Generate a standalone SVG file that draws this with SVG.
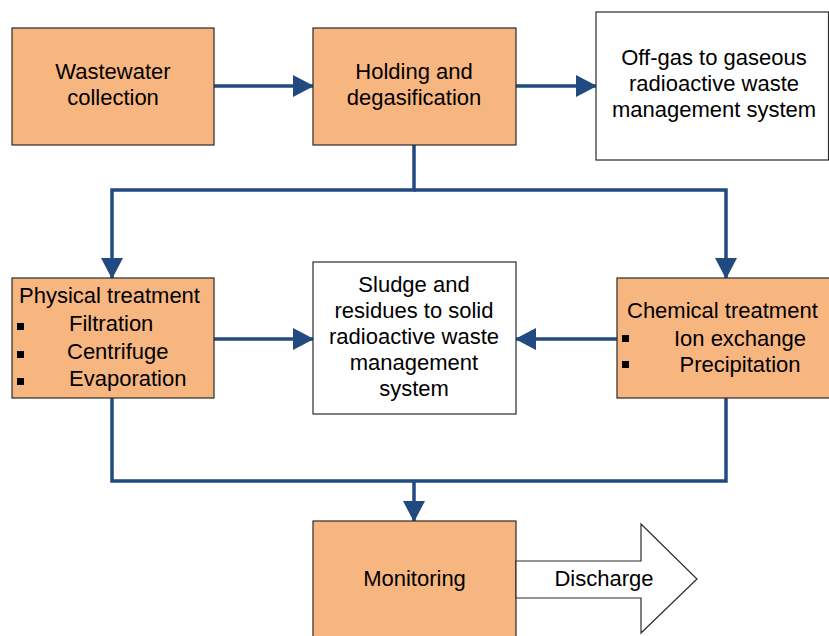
<svg xmlns="http://www.w3.org/2000/svg" width="829" height="636" viewBox="0 0 829 636">
<style>
.box{fill:#F7B580;stroke:#2b2b2b;stroke-width:1.2}
.wbox{fill:#ffffff;stroke:#2b2b2b;stroke-width:1.2}
.t{font-family:"Liberation Sans",Arial,sans-serif;font-size:22px;fill:#000}
.c{text-anchor:middle}
.con{fill:none;stroke:#214A80;stroke-width:3.5}
.bul{fill:#000}
</style>
<defs>
<marker id="ah" markerWidth="21" markerHeight="22" refX="20" refY="11" orient="auto" markerUnits="userSpaceOnUse">
<path d="M0,0 L21,11 L0,22 z" fill="#214A80"/>
</marker>
</defs>
<rect width="829" height="636" fill="#ffffff"/>
<g id="connectors">
<line class="con" x1="214" y1="86" x2="313" y2="86" marker-end="url(#ah)"/>
<line class="con" x1="516" y1="86" x2="596" y2="86" marker-end="url(#ah)"/>
<polyline class="con" points="414,145 414,190 112,190 112,278" marker-end="url(#ah)"/>
<polyline class="con" points="414,190 726,190 726,278" marker-end="url(#ah)"/>
<line class="con" x1="214" y1="339" x2="313" y2="339" marker-end="url(#ah)"/>
<line class="con" x1="617" y1="339" x2="516" y2="339" marker-end="url(#ah)"/>
<polyline class="con" points="112,398 112,481 726,481 726,398"/>
<line class="con" x1="414" y1="481" x2="414" y2="521" marker-end="url(#ah)"/>
</g>
<g id="wastewater">
<rect class="box" x="12" y="28" width="202" height="117"/>
<text class="t c" x="113" y="79">Wastewater</text>
<text class="t c" x="113" y="105">collection</text>
</g>
<g id="holding">
<rect class="box" x="313" y="28" width="203" height="117"/>
<text class="t c" x="414" y="79">Holding and</text>
<text class="t c" x="414" y="105">degasification</text>
</g>
<g id="offgas">
<rect class="wbox" x="596" y="12" width="232.5" height="148"/>
<text class="t c" x="714" y="65">Off-gas to gaseous</text>
<text class="t c" x="714" y="91">radioactive waste</text>
<text class="t c" x="714" y="117">management system</text>
</g>
<g id="physical">
<rect class="box" x="12" y="278" width="202" height="120"/>
<text class="t" x="19" y="303">Physical treatment</text>
<rect class="bul" x="17" y="323" width="7" height="7"/>
<text class="t" x="69" y="331">Filtration</text>
<rect class="bul" x="17" y="351" width="7" height="7"/>
<text class="t" x="67" y="359">Centrifuge</text>
<rect class="bul" x="17" y="378" width="7" height="7"/>
<text class="t" x="69" y="386">Evaporation</text>
</g>
<g id="sludge">
<rect class="wbox" x="313" y="262" width="203" height="152"/>
<text class="t c" x="414" y="292">Sludge and</text>
<text class="t c" x="414" y="318">residues to solid</text>
<text class="t c" x="414" y="344">radioactive waste</text>
<text class="t c" x="414" y="370">management</text>
<text class="t c" x="414" y="396">system</text>
</g>
<g id="chemical">
<rect class="box" x="617" y="278" width="215" height="120"/>
<text class="t" x="627" y="318">Chemical treatment</text>
<rect class="bul" x="622" y="335" width="7" height="7"/>
<text class="t c" x="740" y="346">Ion exchange</text>
<rect class="bul" x="622" y="361" width="7" height="7"/>
<text class="t c" x="740" y="372">Precipitation</text>
</g>
<g id="monitoring">
<rect class="box" x="313" y="521" width="203" height="120"/>
<text class="t c" x="414.5" y="586">Monitoring</text>
</g>
<g id="discharge">
<polygon points="516,561 641,561 641,524 697,579 641,633 641,598 516,598" fill="#ffffff" stroke="#2b2b2b" stroke-width="1.2"/>
<text class="t c" x="604" y="586">Discharge</text>
</g>
</svg>
